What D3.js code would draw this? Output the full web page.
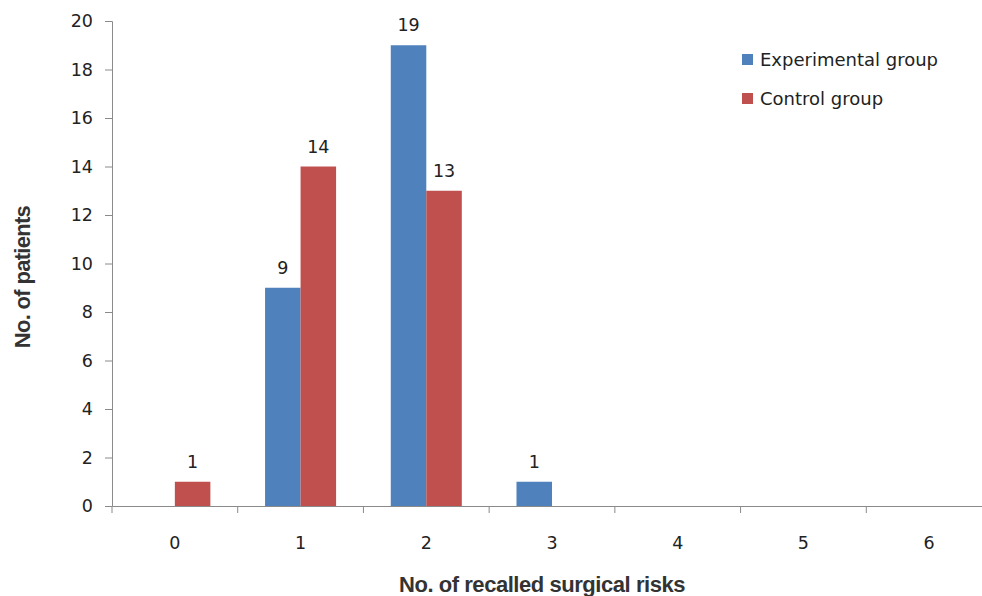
<!DOCTYPE html>
<html><head><meta charset="utf-8">
<script src="https://cdn.jsdelivr.net/npm/d3@7"></script>
<style>body{margin:0;background:#fff}</style>
</head><body>
<svg id="c" width="982" height="596"></svg>
<script>
const categories = ["0","1","2","3","4","5","6"];
const experimental = [0, 9, 19, 1, 0, 0, 0];
const control = [1, 14, 13, 0, 0, 0, 0];
const seriesNames = ["Experimental group", "Control group"];
const yTicks = [0,2,4,6,8,10,12,14,16,18,20];
const colors = ["#4F81BD", "#C0504D"];

const svg = d3.select("#c");
const x0 = 112, x1 = 992, yTop = 21, yBot = 506;
const x = d3.scaleBand().domain(categories).range([x0, x1]).paddingInner(0).paddingOuter(0);
const inner = d3.scaleBand().domain([0,1]).range([0, x.bandwidth()]).paddingInner(0).paddingOuter(0.77);
const y = d3.scaleLinear().domain([0,20]).range([yBot, yTop]);
const font = "'DejaVu Sans', 'Open Sans', sans-serif";
const txt = "#222";

// y axis
const ya = svg.append("g").attr("transform", `translate(${x0},0)`)
  .call(d3.axisLeft(y).tickValues(yTicks).tickSize(7).tickPadding(12));
ya.select(".domain").attr("stroke", "#8a8a8a");
ya.selectAll(".tick line").attr("stroke", "#8a8a8a");
ya.selectAll("text").attr("font-family", font).attr("font-size", 17.5).attr("fill", txt);

// x axis
const xa = svg.append("g").attr("transform", `translate(0,${yBot})`)
  .call(d3.axisBottom(x).tickSize(0).tickPadding(31).tickSizeOuter(0));
xa.select(".domain").attr("stroke", "#8a8a8a");
xa.selectAll("text").attr("font-family", font).attr("font-size", 17.5).attr("fill", txt);
xa.selectAll(".sep").data(categories.concat(["end"])).enter().append("line")
  .attr("x1", (d,i)=> x0 + i*x.bandwidth()).attr("x2", (d,i)=> x0 + i*x.bandwidth())
  .attr("y1", 0).attr("y2", 7).attr("stroke", "#8a8a8a");

const data = categories.map((c,i)=>({c, v:[experimental[i], control[i]]}));
const g = svg.append("g");
data.forEach(d => {
  d.v.forEach((v, s) => {
    if (v <= 0) return;
    const bx = x(d.c) + inner(s);
    g.append("rect").attr("x", bx).attr("width", inner.bandwidth())
      .attr("y", y(v)).attr("height", yBot - y(v)).attr("fill", colors[s]);
    g.append("text").attr("x", bx + inner.bandwidth()/2).attr("y", y(v) - 14)
      .attr("text-anchor", "middle").attr("font-family", font).attr("font-size", 17.5)
      .attr("fill", txt).text(v);
  });
});

// legend
const lg = svg.append("g").attr("transform", "translate(742,54)");
seriesNames.forEach((n,i) => {
  lg.append("rect").attr("x", 0).attr("y", i*39).attr("width", 11).attr("height", 11).attr("fill", colors[i]);
  lg.append("text").attr("x", 18).attr("y", i*39 + 12).attr("font-family", font)
    .attr("font-size", 18).attr("fill", txt).text(n);
});

// titles
svg.append("text").attr("x", 542).attr("y", 592).attr("text-anchor", "middle")
  .attr("font-family", "'Liberation Sans', Arial, sans-serif").attr("font-weight", "bold")
  .attr("font-size", 22).attr("fill", "#333").attr("letter-spacing", -0.45).text("No. of recalled surgical risks");
svg.append("text").attr("transform", "translate(30,277) rotate(-90)").attr("text-anchor", "middle")
  .attr("font-family", "'Liberation Sans', Arial, sans-serif").attr("font-weight", "bold")
  .attr("font-size", 22).attr("fill", "#333").attr("letter-spacing", -0.7).text("No. of patients");
</script>
</body></html>
